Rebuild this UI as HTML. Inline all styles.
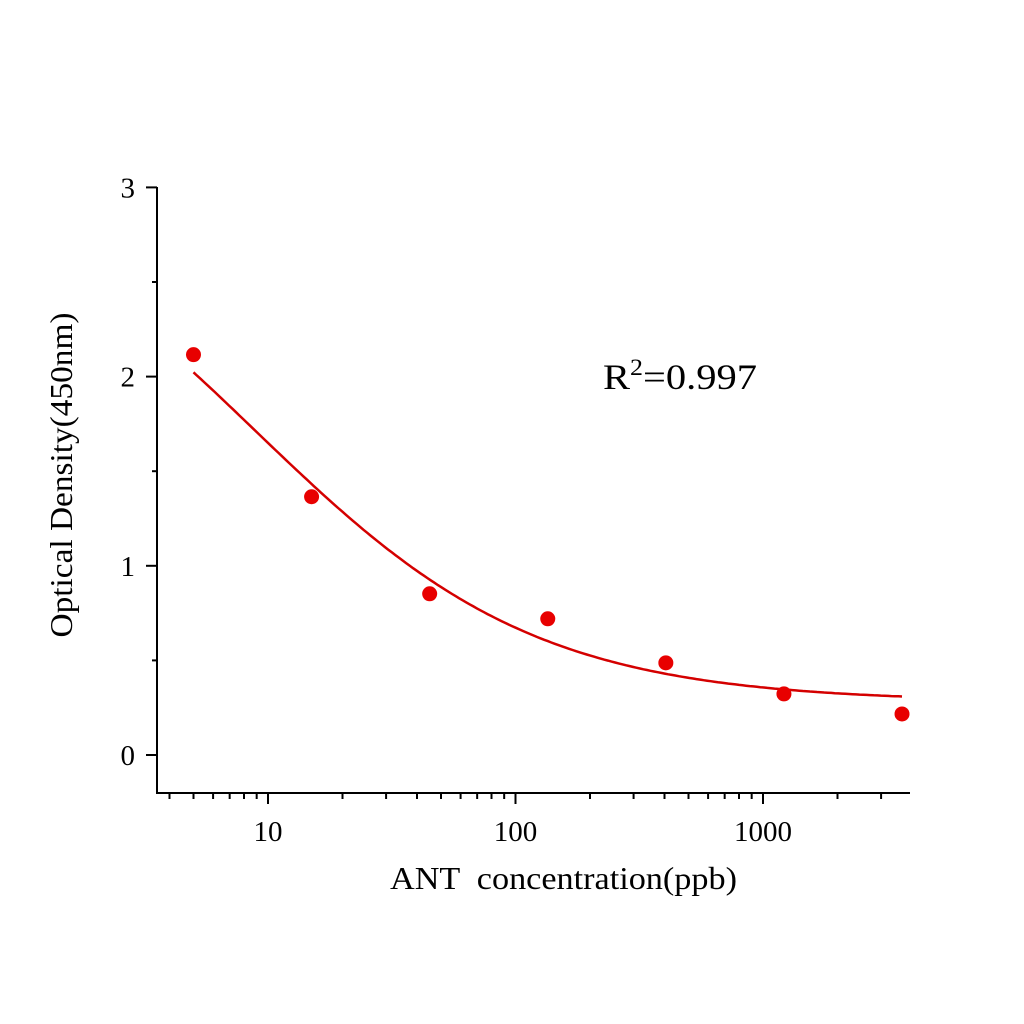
<!DOCTYPE html>
<html><head><meta charset="utf-8"><style>
body{margin:0;background:#fff}
svg{display:block;font-family:"Liberation Serif",serif}
</style></head><body>
<svg id="chart" width="1024" height="1024" viewBox="0 0 1024 1024">
<rect width="1024" height="1024" fill="#fff"/>
<g id="axes"></g>
<path id="fit" fill="none" stroke="#d40000" stroke-width="2.5"/>
<g id="pts"></g>
<text x="603" y="389" font-size="36" textLength="154" lengthAdjust="spacingAndGlyphs">R<tspan dy="-14" font-size="23">2</tspan><tspan dy="14">=0.997</tspan></text>
<text x="390" y="889" font-size="32" textLength="347" lengthAdjust="spacingAndGlyphs" xml:space="preserve">ANT  concentration(ppb)</text>
<text transform="translate(72,475) rotate(-90)" font-size="32" text-anchor="middle" textLength="325" lengthAdjust="spacingAndGlyphs">Optical Density(450nm)</text>
</svg>
<script>
const concentrations=[5,15,45,135,405,1215,3645];
const odValues=[2.116,1.365,0.852,0.72,0.487,0.323,0.217];
const yTicks=[0,1,2,3];
const xTicks=[10,100,1000];
const fitParams=[3.15,0.76,8.87,0.28]; // A,B,C,D (4PL)
const NS="http://www.w3.org/2000/svg";
function sx(v){return 268+(Math.log10(v)-1)*247.5;}
function sy(v){return 755-v*189.2;}
function mk(tag,attrs,parent){const e=document.createElementNS(NS,tag);for(const k in attrs)e.setAttribute(k,attrs[k]);parent.appendChild(e);return e;}
const ax=document.getElementById('axes');
let l=mk('line',{x1:157,y1:187,x2:157,y2:794,stroke:'#000','stroke-width':2},ax);


l=mk('line',{x1:156,y1:793,x2:910,y2:793,stroke:'#000','stroke-width':2},ax);


yTicks.forEach(v=>{
  const t=mk('line',{x1:146,y1:sy(v),x2:157,y2:sy(v),stroke:'#000','stroke-width':2},ax);
  
  
  const tx=mk('text',{x:135,y:sy(v)+10,'font-size':29,'text-anchor':'end'},ax);tx.textContent=v;
  
  
  if(v<3){const m=mk('line',{x1:152,y1:sy(v+0.5),x2:157,y2:sy(v+0.5),stroke:'#000','stroke-width':2},ax);
  
  }
});
xTicks.forEach(v=>{
  const t=mk('line',{x1:sx(v),y1:793,x2:sx(v),y2:804,stroke:'#000','stroke-width':2},ax);
  
  
  const tx=mk('text',{x:sx(v),y:841,'font-size':29,'text-anchor':'middle'},ax);tx.textContent=v;
  
  
});
[1,10,100,1000].forEach(d=>{for(let k=2;k<=9;k++){const v=d*k;const x=sx(v);if(x<160||x>908)continue;
  const m=mk('line',{x1:x,y1:793,x2:x,y2:799,stroke:'#000','stroke-width':2},ax);
  
  }});
const [A,B,C,D]=fitParams;
function f(x){return D+(A-D)/(1+Math.pow(x/C,B));}
let d='';const lo=Math.log10(concentrations[0]),hi=Math.log10(concentrations[concentrations.length-1]);
for(let i=0;i<=200;i++){const x=Math.pow(10,lo+(hi-lo)*i/200);d+=(i?'L':'M')+sx(x).toFixed(1)+','+sy(f(x)).toFixed(1);}
document.getElementById('fit').setAttribute('d',d);
const pg=document.getElementById('pts');
concentrations.forEach((c,i)=>{
  const p=mk('circle',{cx:sx(c),cy:sy(odValues[i]),r:7.5,fill:'#e80000'},pg);
  
  
});
</script>
</body></html>
